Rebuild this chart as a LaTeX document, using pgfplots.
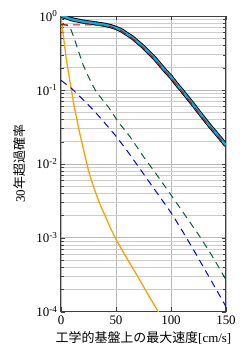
\documentclass[border=0pt]{standalone}
\usepackage{pgfplots}
\pgfplotsset{compat=1.18}
\usepackage{fontspec}
\setmainfont{Liberation Serif}
\newfontfamily\jp{Noto Sans CJK JP}
\definecolor{myorange}{RGB}{255,160,0}
\definecolor{mygreen}{RGB}{0,100,50}
\definecolor{mycyan}{RGB}{0,175,225}
\definecolor{myred}{RGB}{230,0,0}
\definecolor{myblue}{RGB}{0,0,255}

\pgfplotstableread{
x y
0 1.0
5 0.96
10 0.90
15 0.87
20 0.84
25 0.82
30 0.80
35 0.78
40 0.76
45 0.73
50 0.69
55 0.64
60 0.57
65 0.51
70 0.44
75 0.38
80 0.32
85 0.27
90 0.22
95 0.18
100 0.15
105 0.12
110 0.098
115 0.079
120 0.064
125 0.051
130 0.041
135 0.033
140 0.027
145 0.022
150 0.0178
}\total

\pgfplotstableread{
x y
0 0.76
10 0.76
20 0.76
30 0.755
40 0.74
45 0.715
50 0.675
55 0.625
60 0.555
65 0.495
70 0.425
75 0.367
80 0.309
85 0.261
90 0.213
95 0.174
100 0.145
105 0.116
110 0.095
115 0.0765
120 0.062
125 0.0494
130 0.0397
135 0.0320
140 0.0262
145 0.0213
150 0.0173
}\red

\pgfplotstableread{
x y
0 0.77
4 0.76
8 0.72
12 0.50
16 0.33
20 0.22
25 0.15
32 0.094
43 0.059
52 0.037
63 0.023
75 0.0125
88 0.0068
100 0.0038
113 0.0020
126 0.00105
138 0.00055
150 0.00027
}\green

\pgfplotstableread{
x y
0 0.135
10 0.1035
20 0.0741
30 0.0525
40 0.0355
50 0.0237
60 0.0151
70 0.00933
80 0.00575
90 0.00355
100 0.00219
110 0.00126
120 0.000708
130 0.000389
140 0.000214
150 0.000117
}\blue

\pgfplotstableread{
x y
0 1.0
2 0.56
5 0.25
8 0.135
12 0.060
17 0.026
25 0.0081
30 0.0047
35 0.00295
40 0.0020
45 0.00135
50 0.00095
60 0.000525
70 0.000295
80 0.000162
88.5 0.0001
95 0.000069
}\orange

\begin{document}
\begin{tikzpicture}[font=\fontsize{13}{15}\selectfont]
\begin{axis}[
  scale only axis,
  width=165bp, height=295.7bp,
  ymode=log,
  xmin=0, xmax=150, ymin=1e-4, ymax=1,
  xtick={0,50,100,150},
  ytick={1e-4,1e-3,1e-2,1e-1,1},
  yticklabels={10\textsuperscript{-4},10\textsuperscript{-3},10\textsuperscript{-2},10\textsuperscript{-1},10\textsuperscript{0}},
  /pgf/number format/assume math mode=true,
  grid=both,
  major grid style={gray!55, line width=0.6bp},
  minor grid style={gray!40, line width=0.6bp},
  axis line style={black!75, line width=1bp},
  tick style={black!75},
  xlabel={{\jp 工学的基盤上の最大速度}[cm/s]},
  ylabel={30{\jp 年超過確率}},
  xlabel style={at={(axis description cs:0.5,0)}, anchor=center, yshift=-26bp},
  ylabel style={at={(axis description cs:0,0.5)}, anchor=center, yshift=41bp},
  xticklabel style={yshift=-1bp},
]
\addplot[myorange, line width=1.3bp] table {\orange};
\addplot[myblue, line width=1bp, dash pattern=on 7bp off 5bp] table {\blue};
\addplot[mygreen, line width=1bp, dash pattern=on 7bp off 5bp] table {\green};
\addplot[black, line width=4.2bp] table {\total};
\addplot[mycyan, line width=2.4bp] table {\total};
\addplot[myred, line width=1bp, dash pattern=on 7bp off 5bp] table {\red};
\end{axis}
\path (current axis.south west) ++(-61bp,-45.3bp) rectangle ++(247bp,357bp);
\end{tikzpicture}
\end{document}
